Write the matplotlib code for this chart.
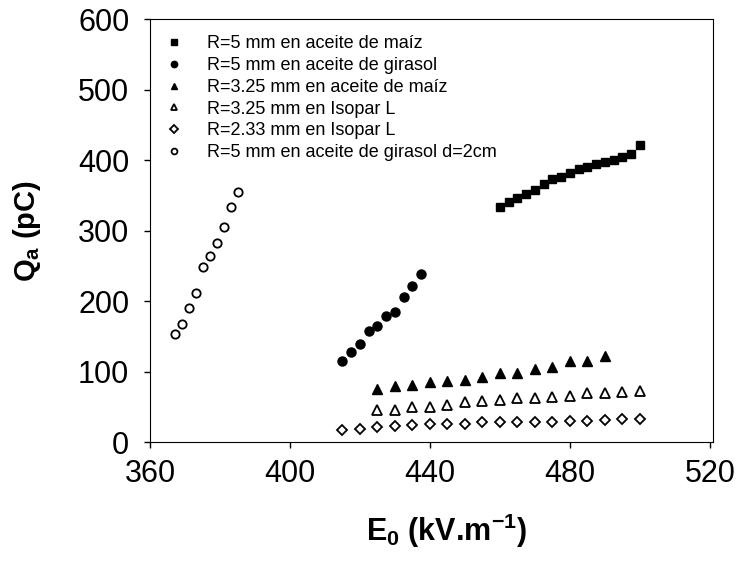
import matplotlib
matplotlib.use("Agg")
import matplotlib.pyplot as plt
import numpy as np

plt.rcParams['font.family'] = ['Liberation Sans', 'DejaVu Sans']
plt.rcParams['mathtext.fontset'] = 'custom'
plt.rcParams['mathtext.rm'] = 'Liberation Sans:bold'
plt.rcParams['mathtext.default'] = 'rm'

# R=5 mm en aceite de maiz
e_sq = [460, 462.5, 465, 467.5, 470, 472.5, 475, 477.5, 480, 482.5, 485, 487.5, 490, 492.5, 495, 497.5, 500]
q_sq = [333, 340, 346, 352, 358, 366, 373, 376, 382, 387, 390, 394, 398, 400, 404, 409, 422]

# R=5 mm en aceite de girasol
e_ci = [415, 417.5, 420, 422.5, 425, 427.5, 430, 432.5, 435, 437.5]
q_ci = [115, 128, 139, 157, 165, 179, 184, 206, 222, 238]

# R=3.25 mm en aceite de maiz
e_tr = [425, 430, 435, 440, 445, 450, 455, 460, 465, 470, 475, 480, 485, 490]
q_tr = [75, 80, 81, 85, 87, 88, 92, 98, 98, 104, 107, 115, 115, 122]

# R=3.25 mm en Isopar L
e_otr = [425, 430, 435, 440, 445, 450, 455, 460, 465, 470, 475, 480, 485, 490, 495, 500]
q_otr = [46, 46, 50, 50, 53, 57, 58, 59, 62, 62, 64, 65, 70, 70, 71, 72]

# R=2.33 mm en Isopar L
e_di = [415, 420, 425, 430, 435, 440, 445, 450, 455, 460, 465, 470, 475, 480, 485, 490, 495, 500]
q_di = [17, 19, 21, 23, 24, 25, 25, 26, 28, 28, 29, 29, 29, 30, 30, 31, 32, 32]

# R=5 mm en aceite de girasol d=2cm
e_oci = [367, 369, 371, 373, 375, 377, 379, 381, 383, 385]
q_oci = [154, 168, 190, 212, 249, 264, 282, 305, 334, 355]

fig = plt.figure(figsize=(7.43, 5.66), dpi=100)
ax = fig.add_axes([0.202, 0.219, 0.758, 0.747])

ax.plot(e_sq, q_sq, 's', color='black', ms=6, label='R=5 mm en aceite de maíz')
ax.plot(e_ci, q_ci, 'o', color='black', ms=6.5, label='R=5 mm en aceite de girasol')
ax.plot(e_tr, q_tr, '^', color='black', ms=6.5, label='R=3.25 mm en aceite de maíz')
ax.plot(e_otr, q_otr, '^', mfc='white', mec='black', mew=1.3, ms=6.5, label='R=3.25 mm en Isopar L')
ax.plot(e_di, q_di, 'D', mfc='white', mec='black', mew=1.3, ms=5.2, label='R=2.33 mm en Isopar L')
ax.plot(e_oci, q_oci, 'o', mfc='white', mec='black', mew=1.3, ms=6, label='R=5 mm en aceite de girasol d=2cm')

ax.set_xlim(360, 521)
ax.set_ylim(0, 600)
ax.set_xticks([360, 400, 440, 480, 520])
ax.set_yticks([0, 100, 200, 300, 400, 500, 600])
ax.tick_params(labelsize=22, direction='out', length=4, width=1)
ax.tick_params(axis='x', pad=8)
ax.tick_params(axis='y', pad=11)

ax.set_xlabel('E$_0$ (kV.m$^{-1}$)', fontsize=22, fontweight='bold')
ax.set_ylabel('Q$_a$ (pC)', fontsize=21, fontweight='bold')
ax.xaxis.set_label_coords(0.527, -0.165)
ax.yaxis.set_label_coords(-0.19, 0.5)

ax.legend(loc='upper left', bbox_to_anchor=(-0.012, 1.0), frameon=False, fontsize=13,
          markerscale=0.7, handletextpad=1.0, labelspacing=0.26, borderaxespad=0.5,
          handlelength=1.6)

plt.savefig('out.png', dpi=100)
plt.close()
